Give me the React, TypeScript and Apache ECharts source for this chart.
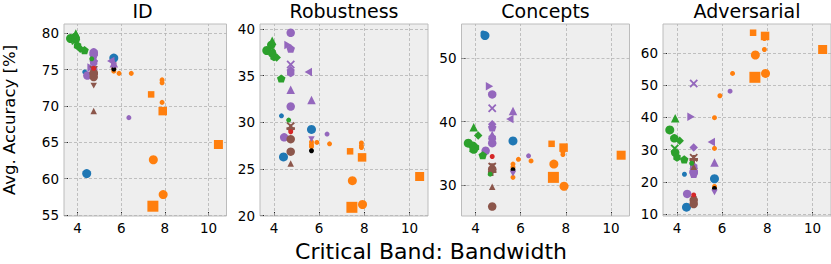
import React, { useEffect, useRef } from "react";
import * as echarts from "echarts";

// ---- data (one entry per model) ----
const bandwidth = [
  7.45, 7.47, 7.92, 10.45, 7.37, 7.9, 7.87, 7.87, 7.87, 5.66, 5.66, 5.66, 5.9, 6.46,
  5.66,
  5.66, 4.42, 4.33,
  6.35, 5.52, 5.66, 5.66, 4.45, 4.62, 4.74, 4.74, 4.74, 4.74, 4.74, 4.74, 4.74,
  4.74, 4.74, 4.74, 4.74, 4.74, 4.74,
  4.74,
  3.68, 3.92, 3.88, 3.92, 4.0, 4.12, 4.32, 3.9, 4.65,
];
const idAcc = [
  56.2, 62.6, 57.8, 64.7, 71.6, 69.3, 73.6, 73.2, 70.5, 75.8, 75.3, 74.8, 74.5, 74.5,
  75.1,
  76.6, 60.7, 74.7,
  68.4, 76.2, 75.9, 75.6, 74.2, 75.3, 77.4, 77.0, 76.6, 76.2, 76.0, 75.6, 77.2,
  75.0, 74.4, 74.6, 74.0, 69.3, 72.8,
  75.2,
  79.3, 80.0, 79.5, 79.2, 78.3, 77.9, 77.7, 79.0, 76.5,
];
const robustnessAcc = [
  20.9, 23.75, 21.2, 24.2, 26.9, 26.25, 27.8, 27.5, 27.3, 27.9, 27.4, 27.6, 27.85, 27.7,
  26.96,
  29.25, 26.3, 30.7,
  28.75, 35.4, 32.4, 28.2, 28.4, 38.3, 39.6, 37.9, 36.2, 35.6, 35.3, 33.5, 31.7,
  29.6, 29.35, 28.2, 26.86, 25.6, 29.0,
  29.0,
  37.7, 38.75, 38.3, 37.4, 37.0, 36.96, 34.7, 38.0, 30.25,
];
const conceptsAcc = [
  31.2, 33.3, 29.8, 34.7, 36.5, 35.9, 35.5, 34.8, 35.2, 33.3, 31.2, 32.8, 34.05, 33.8,
  32.4,
  36.95, 53.6, 54.0,
  34.6, 40.4, 41.7, 31.8, 35.4, 45.6, 44.3, 39.1, 42.1, 39.6, 37.4, 37.9, 36.6,
  32.9, 32.1, 32.5, 26.6, 29.7, 33.0,
  34.5,
  36.6, 39.1, 36.2, 35.6, 35.9, 37.8, 34.7, 35.8, 31.7,
];
const adversarialAcc = [
  52.4, 59.3, 53.6, 61.0, 66.2, 65.2, 64.4, 61.0, 64.8, 39.9, 30.4, 18.6, 46.7, 53.6,
  18.0,
  21.0, 12.2, 22.4,
  48.1, 32.4, 26.0, 16.8, 16.3, 40.2, 23.2, 22.5, 50.5, 30.7, 24.7, 25.3, 23.0,
  27.5, 27.0, 14.4, 13.2, 24.7, 14.8,
  16.0,
  36.1, 39.7, 33.5, 29.1, 27.6, 32.8, 27.0, 30.4, 25.8,
];
const modelFamily = [
  "orange", "orange", "orange", "orange", "orange", "orange", "orange", "orange", "orange", "orange", "orange", "orange", "orange", "orange",
  "black",
  "blue", "blue", "blue",
  "purple", "purple", "purple", "purple", "purple", "purple", "purple", "purple", "purple", "purple", "purple", "purple", "purple",
  "brown", "brown", "brown", "brown", "brown", "brown",
  "red",
  "green", "green", "green", "green", "green", "green", "green", "green", "green",
];
const modelMarker = [
  "square", "circle", "circle", "square", "square", "square", "circle", "circle", "circle", "circle", "circle", "circle", "circle", "circle",
  "circle",
  "circle", "circle", "circle",
  "circle", "triLeft", "triangle", "triDown", "circle", "triRight", "circle", "pentagon", "x", "diamond", "hexagon", "triangle", "circle",
  "x", "plus", "circle", "circle", "triangle", "triDown",
  "circle",
  "circle", "triangle", "circle", "circle", "hexagon", "diamond", "pentagon", "x", "circle",
];
const modelScale = [
  "xl", "l", "l", "l", "s", "m", "xs", "xs", "xs", "xs", "xs", "xs", "xs", "xs",
  "xs",
  "l", "l", "xs",
  "xs", "m", "m", "s", "m", "m", "m", "m", "m", "m", "m", "m", "m",
  "m", "m", "m", "m", "s", "s",
  "xs",
  "l", "m", "m", "m", "m", "m", "m", "m", "xs",
];

const panelTitles = ["ID", "Robustness", "Concepts", "Adversarial"];
const xTicks = [4, 6, 8, 10];
const yTicksID = [55, 60, 65, 70, 75, 80];
const yTicksRobustness = [20, 25, 30, 35, 40];
const yTicksConcepts = [30, 40, 50];
const yTicksAdversarial = [10, 20, 30, 40, 50, 60];
const yLabel = "Avg. Accuracy [%]";
const xLabel = "Critical Band: Bandwidth";

// ---- styles ----
const palette: Record<string, string> = {
  blue: "#1f77b4",
  orange: "#ff7f0e",
  green: "#2ca02c",
  red: "#d62728",
  purple: "#9467bd",
  brown: "#8c564b",
  black: "#000000",
};
const sizes: Record<string, number> = { xl: 11, l: 9, m: 8.5, s: 6.5, xs: 5 };
const symbols: Record<string, string> = {
  circle: "circle",
  square: "rect",
  triangle: "triangle",
  diamond: "diamond",
  triDown: "path://M0,0 L100,0 L50,87 Z",
  triLeft: "path://M0,50 L87,0 L87,100 Z",
  triRight: "path://M0,0 L87,50 L0,100 Z",
  pentagon: "path://M50,0 L97.6,34.5 L79.4,90.5 L20.6,90.5 L2.4,34.5 Z",
  hexagon: "path://M50,0 L93.3,25 L93.3,75 L50,100 L6.7,75 L6.7,25 Z",
  x: "path://M15,0 L50,35 L85,0 L100,15 L65,50 L100,85 L85,100 L50,65 L15,100 L0,85 L35,50 L0,15 Z",
  plus: "path://M35,0 L65,0 L65,35 L100,35 L100,65 L65,65 L65,100 L35,100 L35,65 L0,65 L0,35 L35,35 Z",
};
const FONT = "DejaVu Sans";
const gridLefts = [58.5, 260, 461.5, 663];
const gridWidth = 168;
const gridTop = 24;
const gridHeight = 192;
const xRange = [3.38, 10.82];
const yRanges = [
  [54.85, 81.3],
  [19.97, 40.54],
  [25.1, 55.42],
  [9.47, 68.9],
];

function buildOption() {
  const panelValues = [idAcc, robustnessAcc, conceptsAcc, adversarialAcc];
  const panelYTicks = [yTicksID, yTicksRobustness, yTicksConcepts, yTicksAdversarial];

  const grid = gridLefts.map((left) => ({
    left,
    top: gridTop,
    width: gridWidth,
    height: gridHeight,
    show: true,
    backgroundColor: "#eeeeee",
    borderColor: "#bcbcbc",
    borderWidth: 1,
  }));

  const xAxis = gridLefts.map((_, i) => ({
    type: "value",
    gridIndex: i,
    min: xRange[0],
    max: xRange[1],
    axisLine: { show: false },
    splitLine: { show: false },
    axisTick: {
      show: true,
      inside: true,
      length: 4,
      customValues: xTicks,
      lineStyle: { color: "#222", width: 1 },
    },
    axisLabel: {
      customValues: xTicks,
      fontFamily: FONT,
      fontSize: 13.5,
      color: "#000",
      margin: 5,
    },
  }));

  const yAxis = gridLefts.map((_, i) => ({
    type: "value",
    gridIndex: i,
    min: yRanges[i][0],
    max: yRanges[i][1],
    axisLine: { show: false },
    splitLine: { show: false },
    axisTick: {
      show: true,
      inside: true,
      length: 4,
      customValues: panelYTicks[i],
      lineStyle: { color: "#222", width: 1 },
    },
    axisLabel: {
      customValues: panelYTicks[i],
      fontFamily: FONT,
      fontSize: 13.5,
      color: "#000",
      margin: 5,
    },
    ...(i === 0
      ? {
          name: yLabel,
          nameLocation: "middle",
          nameGap: 46,
          nameTextStyle: { fontFamily: FONT, fontSize: 16.5, color: "#000" },
        }
      : {}),
  }));

  const series = panelValues.map((vals, p) => ({
    type: "scatter",
    xAxisIndex: p,
    yAxisIndex: p,
    silent: true,
    symbolKeepAspect: true,
    z: 3,
    data: bandwidth.map((x, k) => ({
      value: [x, vals[k]],
      symbol: symbols[modelMarker[k]],
      symbolSize: sizes[modelScale[k]],
      itemStyle: { color: palette[modelFamily[k]], opacity: 1 },
    })),
    markLine: {
      silent: true,
      z: 1,
      symbol: ["none", "none"],
      label: { show: false },
      emphasis: { disabled: true },
      lineStyle: { type: [3, 2], color: "#b2b2b2", width: 0.8 },
      data: [
        ...xTicks.map((v) => ({ xAxis: v })),
        ...panelYTicks[p].map((v) => ({ yAxis: v })),
      ],
    },
  }));

  const graphic = [
    ...panelTitles.map((t, i) => ({
      type: "text",
      x: gridLefts[i] + gridWidth / 2,
      y: 11,
      style: {
        text: t,
        fontFamily: FONT,
        fontSize: 19,
        fill: "#000",
        align: "center",
        verticalAlign: "middle",
      },
    })),
    {
      type: "text",
      x: 431,
      y: 251,
      style: {
        text: xLabel,
        fontFamily: FONT,
        fontSize: 22,
        fill: "#000",
        align: "center",
        verticalAlign: "middle",
      },
    },
  ];

  return {
    animation: false,
    backgroundColor: "#ffffff",
    grid,
    xAxis,
    yAxis,
    series,
    graphic,
  };
}

export default function App() {
  const ref = useRef<HTMLDivElement>(null);
  useEffect(() => {
    if (!ref.current) return;
    const chart = echarts.init(ref.current, null, { renderer: "svg" });
    chart.setOption(buildOption() as any);
    return () => chart.dispose();
  }, []);
  return (
    <div
      ref={ref}
      style={{ position: "absolute", left: 0, top: 0, width: 831, height: 264 }}
    />
  );
}
